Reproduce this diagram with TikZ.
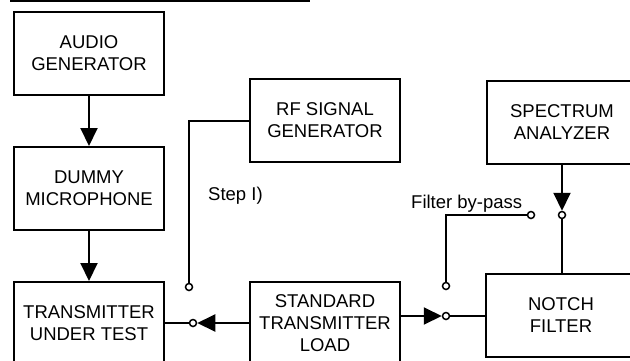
\documentclass[tikz,border=0pt]{standalone}
\usepackage{fontspec}
\setmainfont{Liberation Sans}
\usetikzlibrary{arrows.meta}
\begin{document}
\begin{tikzpicture}[x = 1pt, y = -1pt,
		font = \fontsize{18.5}{22}\selectfont,
		block/.style = {draw, line width = 2pt, minimum width = 150pt, minimum height = 83pt, align = center, inner sep = 0pt},
		term/.style = {draw, circle, line width = 1.5pt, minimum size = 7pt, inner sep = 0pt},
		wire/.style = {line width = 2pt},
		->/.style = {wire, -{Triangle[length = 18pt, width = 17pt]}},
		lbl/.style = {inner sep = 0pt, anchor = west}]
			\useasboundingbox (0,0) rectangle (630,360);
			\clip (0,0) rectangle (630,360);
			\draw[wire] (10,1) -- (310,1);
			
			\node[block] (audio) at (89,53.5) {AUDIO\\GENERATOR};
			\node[block] (mic) at (89,188.5) {DUMMY\\MICROPHONE};
			\node[block] (tut) at (89,323.5) {TRANSMITTER\\UNDER TEST};
			\node[block] (rf) at (325,120.5) {RF SIGNAL\\GENERATOR};
			\node[block] (load) at (325,323.5) {STANDARD\\TRANSMITTER\\LOAD};
			\node[block] (sa) at (562,122) {SPECTRUM\\ANALYZER};
			\node[block] (notch) at (561,315) {NOTCH\\FILTER};
			
			\node[term] (s1) at (189,287) {};
			\node[term] (s2) at (193,323) {};
			\node[term] (s3) at (446,286) {};
			\node[term] (s4) at (446,316) {};
			\node[term] (s5) at (531,215) {};
			\node[term] (s6) at (562,215) {};
			
			\node[lbl] (step) at (208,196) {Step I)};
			\node[lbl] (bypass) at (411,204) {Filter by-pass};
			
			\draw[->] (audio) -- (mic);
			\draw[->] (mic) -- (tut);
			\draw[wire] (rf.west) -| (s1);
			\draw[wire] (tut.east |- s2) -- (s2);
			\draw[->] (load.west |- s2) -- (s2.east);
			\draw[->] (load.east |- s4) -- (s4.west);
			\draw[wire] (s4) -- (notch.west |- s4);
			\draw[wire] (s3) |- (s5);
			\draw[->] (sa.south -| s6) -- (s6.north);
			\draw[wire] (s6) -- (notch.north -| s6);
		\end{tikzpicture}
\end{document}
